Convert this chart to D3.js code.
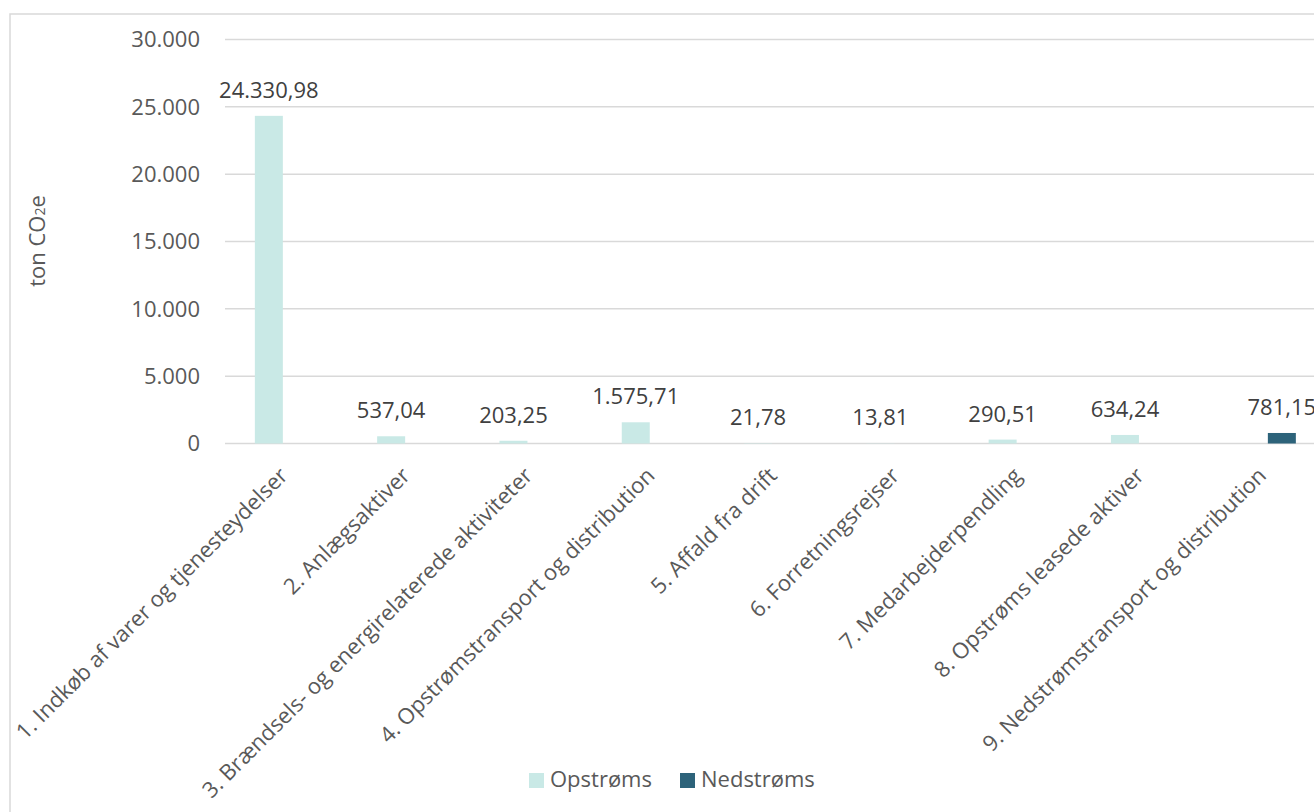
<!DOCTYPE html>
<html>
<head>
<meta charset="utf-8">
<script src="https://cdn.jsdelivr.net/npm/d3@7"></script>
<style>
    body { margin: 0; background: #fff; }
    text { font-family: "Open Sans", sans-serif; }
</style>
</head>
<body>
<svg id="chart"></svg>
<script>
var categories = [
    "1. Indkøb af varer og tjenesteydelser",
    "2. Anlægsaktiver",
    "3. Brændsels- og energirelaterede aktiviteter",
    "4. Opstrømstransport og distribution",
    "5. Affald fra drift",
    "6. Forretningsrejser",
    "7. Medarbejderpendling",
    "8. Opstrøms leasede aktiver",
    "9. Nedstrømstransport og distribution"
];
var seriesNames = ["Opstrøms", "Nedstrøms"];
var opstroms = [24330.98, 537.04, 203.25, 1575.71, 21.78, 13.81, 290.51, 634.24, null];
var nedstroms = [null, null, null, null, null, null, null, null, 781.15];
var yTicks = [0, 5000, 10000, 15000, 20000, 25000, 30000];
var colors = ["#c9e9e6", "#2d637a"];

var width = 1314, height = 812;
var svg = d3.select("#chart").attr("width", width).attr("height", height);

svg.append("rect")
    .attr("x", 10).attr("y", 14)
    .attr("width", width).attr("height", height)
    .attr("fill", "#fff")
    .attr("stroke", "#d9d9d9")
    .attr("stroke-width", 1.5);

var plotLeft = 225, step = 122.3;
var x = d3.scaleBand()
    .domain(categories)
    .range([plotLeft, plotLeft + step * categories.length]);

var x1 = d3.scaleBand()
    .domain(seriesNames)
    .range([29.85, 92.45])
    .paddingInner(0.191);

var y = d3.scaleLinear().domain([0, 30000]).range([443.5, 39.5]);

var fmtNum = d3.formatLocale({ decimal: ",", thousands: ".", grouping: [3], currency: ["", " kr"] });
var tickFmt = fmtNum.format(",.0f");
var valFmt = fmtNum.format(",.2f");

// gridlines
svg.append("g")
    .selectAll("line")
    .data(yTicks)
    .enter()
    .append("line")
    .attr("x1", plotLeft).attr("x2", width)
    .attr("y1", d => y(d)).attr("y2", d => y(d))
    .attr("stroke", "#d9d9d9")
    .attr("stroke-width", 1.5);

svg.append("g")
    .selectAll("text")
    .data(yTicks)
    .enter()
    .append("text")
    .attr("x", 200)
    .attr("y", d => y(d))
    .attr("dy", "0.35em")
    .attr("text-anchor", "end")
    .attr("font-size", 22)
    .attr("fill", "#595959")
    .text(d => tickFmt(d));

// bars
var rows = categories.map((c, i) => ({ cat: c, values: [opstroms[i], nedstroms[i]] }));

var groups = svg.append("g")
    .selectAll("g")
    .data(rows)
    .enter()
    .append("g")
    .attr("transform", d => "translate(" + x(d.cat) + ",0)");

var items = groups.selectAll("g")
    .data(d => d.values.map((v, j) => ({ series: seriesNames[j], value: v, color: colors[j] })).filter(e => e.value != null))
    .enter()
    .append("g");

items.append("rect")
    .attr("x", d => x1(d.series))
    .attr("width", x1.bandwidth())
    .attr("y", d => y(d.value))
    .attr("height", d => y(0) - y(d.value))
    .attr("fill", d => d.color);

items.append("text")
    .attr("x", d => x1(d.series) + x1.bandwidth() / 2)
    .attr("y", d => y(d.value) - 18)
    .attr("text-anchor", "middle")
    .attr("font-size", 22)
    .attr("fill", "#404040")
    .text(d => valFmt(d.value));

// category labels
svg.append("g")
    .selectAll("text")
    .data(categories)
    .enter()
    .append("text")
    .attr("transform", d => "translate(" + (x(d) + x.bandwidth() / 2 + 3) + ",477) rotate(-45)")
    .attr("text-anchor", "end")
    .attr("font-size", 22)
    .attr("fill", "#595959")
    .text(d => d);

// y axis title
var yt = svg.append("text")
    .attr("transform", "translate(45,241) rotate(-90)")
    .attr("text-anchor", "middle")
    .attr("font-size", 22)
    .attr("fill", "#595959");
yt.append("tspan").text("ton CO");
yt.append("tspan").attr("font-size", 14).text("2");
yt.append("tspan").text("e");

// legend
var legend = svg.append("g")
    .selectAll("g")
    .data(seriesNames)
    .enter()
    .append("g")
    .attr("transform", (d, i) => "translate(" + (i === 0 ? 529 : 680) + ",773)");

legend.append("rect")
    .attr("width", 15).attr("height", 15)
    .attr("fill", (d, i) => colors[i]);

legend.append("text")
    .attr("x", 21).attr("y", 14)
    .attr("font-size", 22)
    .attr("fill", "#595959")
    .text(d => d);
</script>
</body>
</html>
